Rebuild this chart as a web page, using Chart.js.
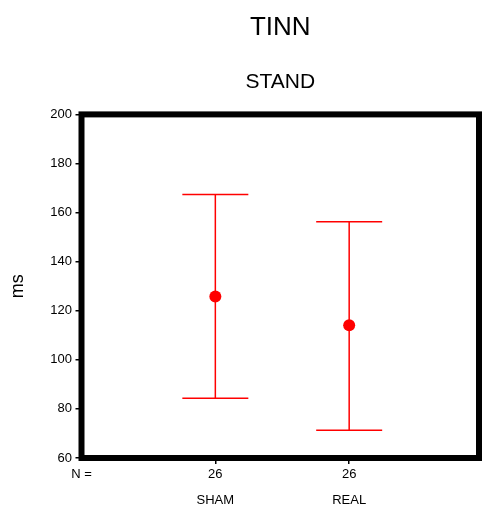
<!DOCTYPE html>
<html>
<head>
<meta charset="utf-8">
<script src="https://cdn.jsdelivr.net/npm/chart.js@4/dist/chart.umd.min.js"></script>
<style>
  body { margin: 0; background: #fff; }
  #wrap { position: relative; width: 485px; height: 505px; }
</style>
</head>
<body>
<div id="wrap"><canvas id="chart"></canvas></div>
<script>
const categories = ['SHAM', 'REAL'];
const counts = [26, 26];
const means = [125.8, 114.1];
const upper = [167.4, 156.3];
const lower = [84.3, 71.3];
const yTicks = [60, 80, 100, 120, 140, 160, 180, 200];

const positions = categories.map((c, i) => i + 1);
const RED = 'rgb(255, 0, 0)';

// whiskers, drawn under the mean markers
const errorBars = {
  id: 'errorBars',
  beforeDatasetsDraw(chart) {
    const { ctx, scales } = chart;
    const x = scales.x, y = scales.y;
    ctx.save();
    ctx.strokeStyle = RED;
    ctx.lineWidth = 1.5;
    positions.forEach((p, i) => {
      const px = x.getPixelForValue(p);
      const top = y.getPixelForValue(upper[i]);
      const bot = y.getPixelForValue(lower[i]);
      ctx.beginPath();
      ctx.moveTo(px, top); ctx.lineTo(px, bot);
      ctx.moveTo(px - 33, top); ctx.lineTo(px + 33, top);
      ctx.moveTo(px - 33, bot); ctx.lineTo(px + 33, bot);
      ctx.stroke();
    });
    ctx.restore();
  }
};

// thick black box round the plot
const frame = {
  id: 'frame',
  afterDraw(chart) {
    const { ctx, chartArea: a } = chart;
    ctx.save();
    ctx.strokeStyle = '#000';
    ctx.lineWidth = 6;
    ctx.strokeRect(a.left, a.top, a.right - a.left, a.bottom - a.top);
    ctx.restore();
  }
};

const font = { family: '"Liberation Sans", Arial, sans-serif', size: 13 };

new Chart(document.getElementById('chart'), {
  type: 'scatter',
  data: {
    datasets: [{
      data: positions.map((p, i) => ({ x: p, y: means[i] })),
      backgroundColor: RED,
      borderWidth: 0,
      pointRadius: 6,
      pointHoverRadius: 6
    }]
  },
  options: {
    responsive: true,
    maintainAspectRatio: false,
    animation: false,
    layout: { padding: { left: 0, right: 3, top: 0, bottom: 0 } },
    plugins: {
      legend: { display: false },
      tooltip: { enabled: false },
      title: {
        display: true,
        text: 'TINN',
        fullSize: false,
        color: '#000',
        font: { family: font.family, size: 26, weight: 'normal' },
        padding: { top: 12, bottom: 26 }
      },
      subtitle: {
        display: true,
        text: 'STAND',
        fullSize: false,
        color: '#000',
        font: { family: font.family, size: 21, weight: 'normal' },
        padding: { top: 0, bottom: 20 }
      }
    },
    scales: {
      x: {
        type: 'linear',
        position: 'bottom',
        min: 0,
        max: 2.97,
        afterBuildTicks: s => { s.ticks = [0, ...positions].map(v => ({ value: v })); },
        afterFit: s => { s.height = 27; },
        border: { display: false },
        grid: {
          drawOnChartArea: false,
          drawTicks: true,
          tickLength: 6,
          lineWidth: 1.5,
          tickColor: c => (c.index === 0 ? 'rgba(0,0,0,0)' : '#000')
        },
        ticks: {
          padding: 3,
          color: '#000',
          font: font,
          maxRotation: 0,
          autoSkip: false,
          callback: v => (v === 0 ? 'N =' : String(counts[positions.indexOf(v)]))
        }
      },
      x2: {
        type: 'linear',
        position: 'bottom',
        min: 0,
        max: 2.97,
        afterBuildTicks: s => { s.ticks = positions.map(v => ({ value: v })); },
        afterFit: s => { s.height = 20; },
        border: { display: false },
        grid: { display: false, drawTicks: false },
        ticks: {
          padding: 8,
          color: '#000',
          font: font,
          maxRotation: 0,
          autoSkip: false,
          callback: v => categories[positions.indexOf(v)]
        }
      },
      y: {
        min: 60,
        max: 200,
        afterBuildTicks: s => { s.ticks = yTicks.map(v => ({ value: v })); },
        afterFit: s => { s.width = 81.5; },
        border: { display: false },
        grid: {
          drawOnChartArea: false,
          drawTicks: true,
          tickLength: 6,
          lineWidth: 1.5,
          tickColor: '#000'
        },
        ticks: { padding: 3.5, color: '#000', font: font },
        title: {
          display: true,
          text: 'ms',
          color: '#000',
          font: { family: font.family, size: 18 },
          padding: { top: 7, bottom: 0 }
        }
      }
    }
  },
  plugins: [errorBars, frame]
});
</script>
</body>
</html>
